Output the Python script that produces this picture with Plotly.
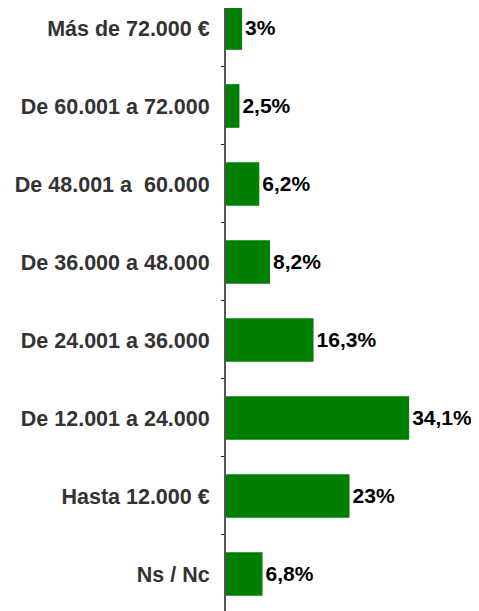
import plotly.graph_objects as go

categories = ["Más de 72.000 €", "De 60.001 a 72.000", "De 48.001 a  60.000",
              "De 36.000 a 48.000", "De 24.001 a 36.000", "De 12.001 a 24.000",
              "Hasta 12.000 €", "Ns / Nc"]
values = [3, 2.5, 6.2, 8.2, 16.3, 34.1, 23, 6.8]
value_labels = ["3%", "2,5%", "6,2%", "8,2%", "16,3%", "34,1%", "23%", "6,8%"]

fig = go.Figure(go.Bar(
    y=categories, x=values, orientation="h",
    marker=dict(color="#008000", line=dict(width=0)),
    width=0.56,
    text=value_labels, textposition="outside", cliponaxis=False,
    textfont=dict(family="Liberation Sans, Arial", size=21, color="#000000", weight="bold"),
))

fig.update_layout(
    width=479, height=611,
    margin=dict(l=218, r=0, t=0, b=0),
    plot_bgcolor="white", paper_bgcolor="white",
    showlegend=False,
    xaxis=dict(range=[0, 48.6], visible=False),
    yaxis=dict(
        type="category", categoryorder="array", categoryarray=categories,
        range=[7.577, -0.256],
        showline=True, linecolor="#555555", linewidth=2,
        ticks="outside", ticklen=3, tickcolor="#222222", tickwidth=1,
        tickson="boundaries", showgrid=False,
        ticklabelstandoff=10,
        tickfont=dict(family="Liberation Sans, Arial", size=21.5, color="#333333", weight="bold"),
    ),
)

fig.write_html("out.html")
